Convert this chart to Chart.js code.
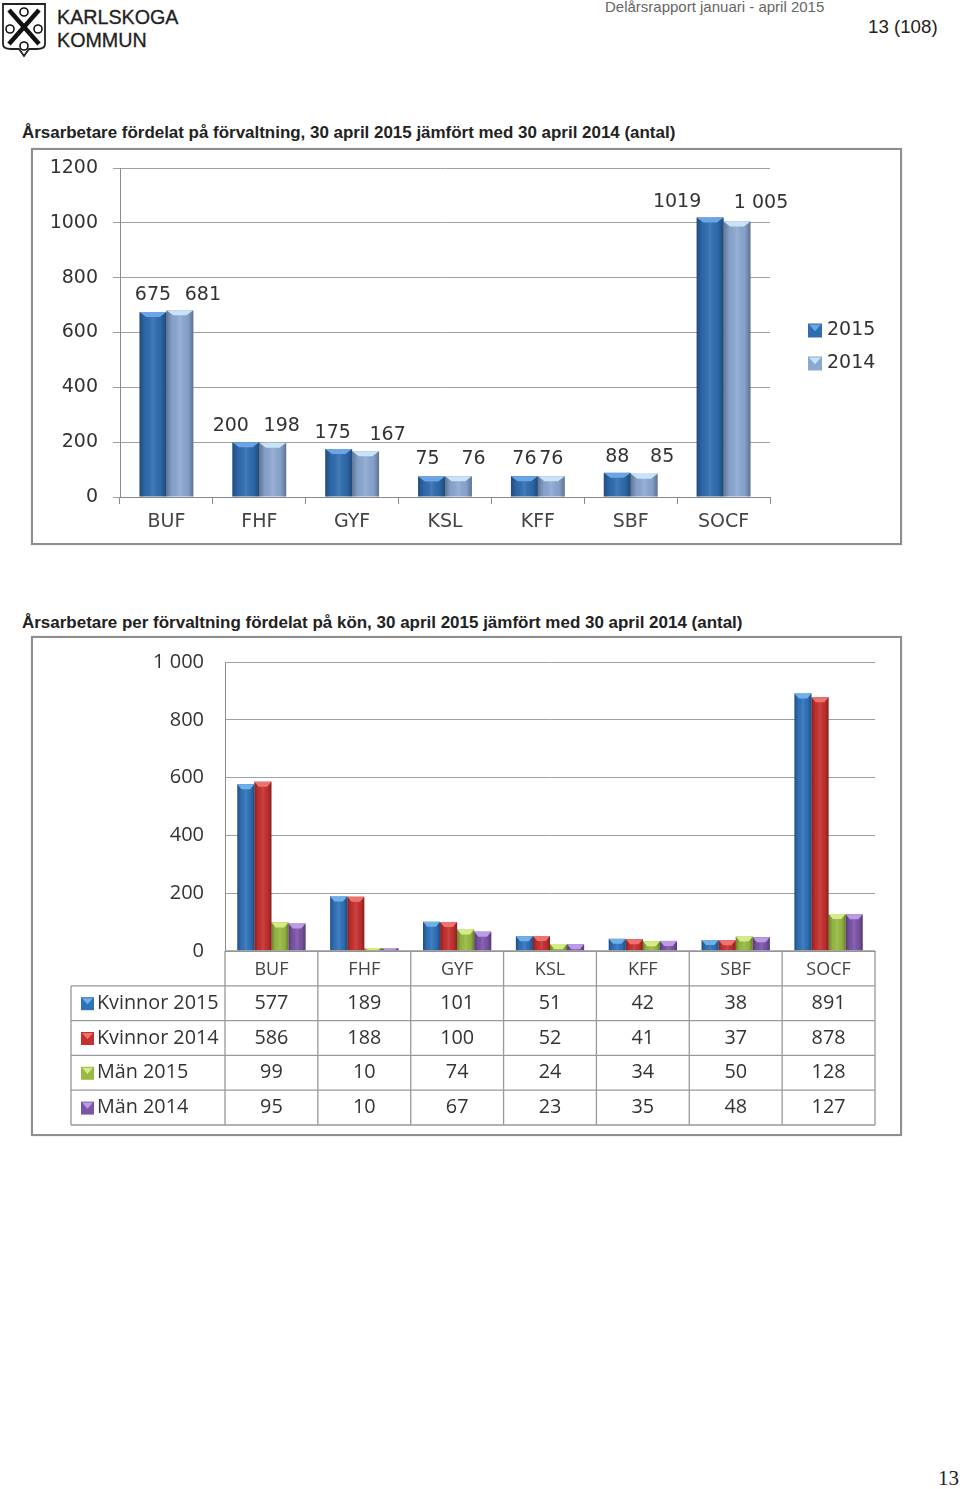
<!DOCTYPE html>
<html lang="sv"><head><meta charset="utf-8">
<script src="https://cdn.jsdelivr.net/npm/chart.js@4"></script>
<style>
html,body{margin:0;padding:0;background:#fff}
body{position:relative;width:960px;height:1489px;overflow:hidden;font-family:"Liberation Sans",sans-serif;color:#222}
.t{position:absolute;white-space:nowrap}
.box{position:absolute;left:31px;width:867px;border:2px solid #8e8e8e;box-shadow:0 0 1px #bbb;background:#fff}
canvas{display:block}
</style></head><body>
<svg class="t" style="left:0;top:2px" width="50" height="56" viewBox="0 0 50 56">
<path d="M3 2H45V42Q45 47 37 47H29L24 54L19 47H11Q3 47 3 42Z" fill="#fff" stroke="#222" stroke-width="1.8"/>
<g stroke="#111" fill="none"><path d="M9 8L39 42" stroke-width="4.5"/><path d="M39 8L9 42" stroke-width="4.5"/>
<circle cx="24" cy="10" r="4" stroke-width="1.6"/><circle cx="10" cy="27" r="4" stroke-width="1.6"/><circle cx="38" cy="27" r="4" stroke-width="1.6"/><circle cx="24" cy="44" r="4" stroke-width="1.6"/></g></svg>
<div class="t" style="left:57px;top:6px;font-size:19.7px;line-height:23px;color:#222;-webkit-text-stroke:.3px #222">KARLSKOGA<br>KOMMUN</div>
<div class="t" style="left:605px;top:-1px;font-size:15px;line-height:16px;color:#666">Delårsrapport januari - april 2015</div>
<div class="t" style="left:868px;top:18px;font-size:18.7px;line-height:18px">13 (108)</div>
<div class="t" style="left:22px;top:124px;font-size:16.95px;line-height:18px;font-weight:bold">Årsarbetare fördelat på förvaltning, 30 april 2015 jämfört med 30 april 2014 (antal)</div>
<div class="box" style="top:148px;height:393px"><canvas id="c1" width="867" height="393"></canvas></div>
<div class="t" style="left:22px;top:614px;font-size:16.98px;line-height:18px;font-weight:bold">Årsarbetare per förvaltning fördelat på kön, 30 april 2015 jämfört med 30 april 2014 (antal)</div>
<div class="box" style="top:636px;height:496px"><canvas id="c2" width="867" height="496"></canvas></div>
<div class="t" style="left:938px;top:1467px;font-family:'Liberation Serif',serif;font-size:21px;line-height:23px">13</div>
<script>
const categories = ["BUF","FHF","GYF","KSL","KFF","SBF","SOCF"];
const total2015 = [675,200,175,75,76,88,1019];
const total2014 = [681,198,167,76,76,85,1005];
const kvinnor2015 = [577,189,101,51,42,38,891];
const kvinnor2014 = [586,188,100,52,41,37,878];
const man2015 = [99,10,74,24,34,50,128];
const man2014 = [95,10,67,23,35,48,127];
const ticks1 = [0,200,400,600,800,1000,1200];
const ticks2 = [0,200,400,600,800,1000];

// Label placement of the reference's manually moved data labels (offset from bar top centre, px)
const shift2015 = [[0,-17],[-15,-16],[-6,-16],[-4,-17],[0,-17],[0,-16],[-33,-16]];
const shift2014 = [[23,-15],[9,-17],[22,-16],[15,-17],[0,-17],[18,-17],[24,-18]];

function shade(chart){
  const c=chart.ctx;
  chart.data.datasets.forEach((ds,i)=>{
    chart.getDatasetMeta(i).data.forEach(el=>{
      const p=el.getProps(['x','y','base','width'],true);
      const l=p.x-p.width/2,r=p.x+p.width/2,h=p.base-p.y;
      const g=c.createLinearGradient(l,0,r,0);
      g.addColorStop(0,'rgba(0,0,0,.30)');g.addColorStop(.22,'rgba(0,0,0,.04)');
      g.addColorStop(.5,'rgba(255,255,255,.10)');g.addColorStop(.78,'rgba(0,0,0,.04)');g.addColorStop(1,'rgba(0,0,0,.32)');
      c.fillStyle=g;c.fillRect(l,p.y,p.width,h);
      const d=Math.min(5,h);
      c.fillStyle=ds.highlight;c.beginPath();c.moveTo(l,p.y);c.lineTo(r,p.y);c.lineTo(r-p.width*.25,p.y+d);c.lineTo(l+p.width*.25,p.y+d);c.closePath();c.fill();
    });
  });
}
function swatch(c,x,y,s,col,hi){
  c.fillStyle=col;c.fillRect(x,y,s,s);
  c.fillStyle=hi;c.beginPath();c.moveTo(x+1,y+1);c.lineTo(x+s-1,y+1);c.lineTo(x+s/2,y+s*.55);c.closePath();c.fill();
}
const font1='"DejaVu Sans"', font2='"Open Sans"';

new Chart(document.getElementById('c1'),{
  type:'bar',
  data:{labels:categories,datasets:[
    {label:'2015',data:total2015,backgroundColor:'#2f6cb0',highlight:'#6aa6e6',shift:shift2015},
    {label:'2014',data:total2014,backgroundColor:'#8ba8d2',highlight:'#c9e2f8',shift:shift2014}
  ]},
  options:{responsive:false,animation:false,
    layout:{padding:{top:18,right:130,left:0,bottom:0}},
    datasets:{bar:{categoryPercentage:.58,barPercentage:1}},
    plugins:{legend:{display:false},tooltip:{enabled:false}},
    scales:{
      x:{afterFit:s=>{s.height=46},grid:{drawOnChartArea:false,color:'#8a8a8a',tickLength:7},border:{color:'#8a8a8a'},
         ticks:{font:{family:font1,size:19},color:'#444',padding:7,maxRotation:0}},
      y:{min:0,max:1200,afterFit:s=>{s.width=87;s.paddingTop=0;s.paddingBottom=0},afterBuildTicks:s=>{s.ticks=ticks1.map(v=>({value:v}))},
         grid:{color:'#a0a0a0',tickLength:7},border:{color:'#8a8a8a'},
         ticks:{font:{family:font1,size:19},color:'#333',padding:15,callback:v=>String(v)}}
    }},
  plugins:[{id:'deco',afterDatasetsDraw(chart){
    shade(chart);
    const c=chart.ctx;c.save();c.font='19px '+font1;c.textAlign='center';c.textBaseline='middle';
    c.fillStyle='#333';
    chart.data.datasets.forEach((ds,i)=>chart.getDatasetMeta(i).data.forEach((el,j)=>{
      const v=ds.data[j],txt=v>=1000&&i===1?String(v).replace(/(\d)(\d{3})$/,'$1 $2'):String(v);
      c.fillText(txt,el.x+ds.shift[j][0],el.y+ds.shift[j][1]);
    }));
    const a=chart.chartArea,mid=(a.top+a.bottom)/2;
    chart.data.datasets.forEach((ds,i)=>{
      const y=mid-3+i*33;
      swatch(c,a.right+38,y-6,14,ds.backgroundColor,ds.highlight);
      c.fillStyle='#333';c.textAlign='left';c.fillText(ds.label,a.right+57,y+1);
    });
    c.restore();
  }}]
});

const series2=[
  {label:'Kvinnor 2015',data:kvinnor2015,backgroundColor:'#2f72ba',highlight:'#6fb0ea'},
  {label:'Kvinnor 2014',data:kvinnor2014,backgroundColor:'#c5302e',highlight:'#ee7370'},
  {label:'Män 2015',data:man2015,backgroundColor:'#97ba42',highlight:'#d3ec84'},
  {label:'Män 2014',data:man2014,backgroundColor:'#7c54a8',highlight:'#bd9ae4'}
];
const rowH=34.8, tableLeft=38;
new Chart(document.getElementById('c2'),{
  type:'bar',
  data:{labels:categories,datasets:series2},
  options:{responsive:false,animation:false,
    layout:{padding:{top:24,right:25,left:0,bottom:0}},
    datasets:{bar:{categoryPercentage:.735,barPercentage:1}},
    plugins:{legend:{display:false},tooltip:{enabled:false}},
    scales:{
      x:{afterFit:s=>{s.height=183},grid:{display:false},border:{color:'#8a8a8a'},
         ticks:{font:{family:font2,size:18},color:'#444',padding:0,maxRotation:0}},
      y:{min:0,max:1000,afterFit:s=>{s.width=192;s.paddingTop=0;s.paddingBottom=0},afterBuildTicks:s=>{s.ticks=ticks2.map(v=>({value:v}))},
         grid:{color:'#a0a0a0',drawTicks:false},border:{color:'#8a8a8a'},
         ticks:{font:{family:font2,size:20},color:'#333',padding:21,callback:v=>v>=1000?'1 000':String(v)}}
    }},
  plugins:[{id:'deco',afterDatasetsDraw(chart){
    shade(chart);
    const c=chart.ctx,a=chart.chartArea,x=chart.scales.x;
    const cw=(a.right-a.left)/categories.length;
    c.save();c.strokeStyle='#999';c.lineWidth=1.3;
    c.beginPath();
    for(let r=0;r<=5;r++){const y=a.bottom+r*rowH;c.moveTo(r===0?a.left:tableLeft,y);c.lineTo(a.right,y);}
    for(let k=0;k<=categories.length;k++){const X=a.left+k*cw;c.moveTo(X,a.bottom);c.lineTo(X,a.bottom+5*rowH);}
    c.moveTo(tableLeft,a.bottom+rowH);c.lineTo(tableLeft,a.bottom+5*rowH);
    c.stroke();
    c.font='19.8px '+font2;c.textBaseline='middle';
    series2.forEach((s,r)=>{
      const y=a.bottom+(r+1.5)*rowH;
      swatch(c,tableLeft+10,y-6,13,s.backgroundColor,s.highlight);
      c.fillStyle='#333';c.textAlign='left';c.fillText(s.label,tableLeft+26,y);
      c.textAlign='center';
      s.data.forEach((v,j)=>c.fillText(String(v),x.getPixelForValue(j),y));
    });
    c.restore();
  }}]
});
</script>
</body></html>
